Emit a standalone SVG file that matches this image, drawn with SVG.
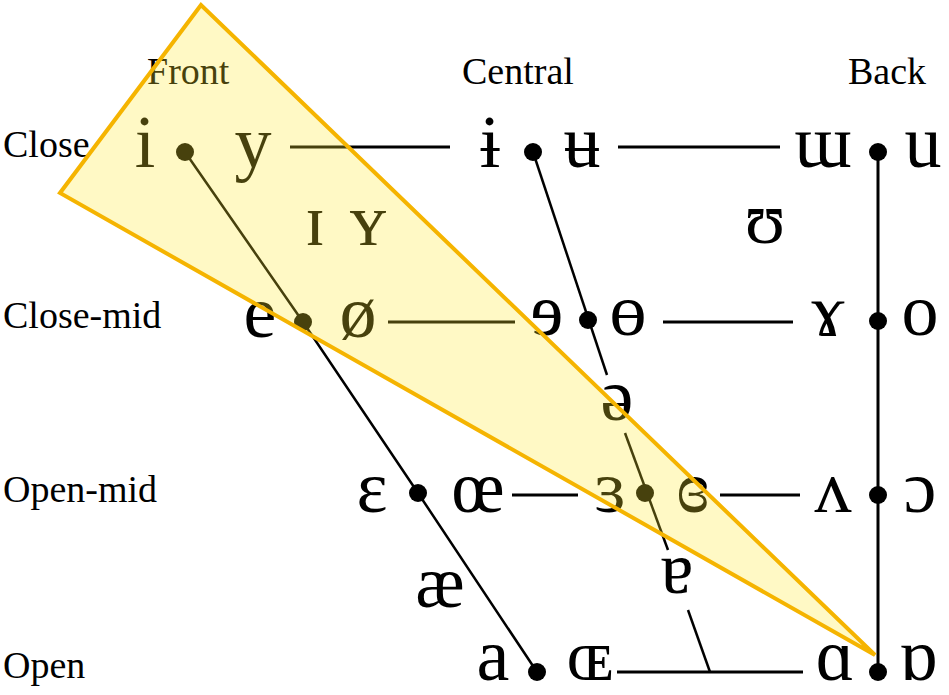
<svg xmlns="http://www.w3.org/2000/svg" width="949" height="695" viewBox="0 0 949 695">
<style>
.lbl{font-family:"Liberation Serif","DejaVu Serif",serif;font-size:38px;fill:#000}
.v{font-family:"Liberation Serif","DejaVu Serif",serif;font-size:74px;fill:#000;text-anchor:middle}
.ln{stroke:#000;stroke-width:3;fill:none}
.dl{stroke:#000;stroke-width:2.5;fill:none}
.dot{fill:#000}
.tri{fill:#ffe82e;fill-opacity:0.28;stroke:#f5b400;stroke-width:4;stroke-linejoin:miter}
</style>
<rect width="949" height="695" fill="#fff"/>
<g id="headers">
<text class="lbl" x="147" y="84">Front</text>
<text class="lbl" x="462" y="84">Central</text>
<text class="lbl" x="848" y="84">Back</text>
<text class="lbl" x="3" y="157">Close</text>
<text class="lbl" x="3" y="328">Close-mid</text>
<text class="lbl" x="3" y="502">Open-mid</text>
<text class="lbl" x="3" y="678">Open</text>
</g>
<g id="connectors">
<line class="ln" x1="290" y1="147" x2="450" y2="147"/>
<line class="ln" x1="618" y1="147" x2="780" y2="147"/>
<line class="ln" x1="388" y1="322" x2="515" y2="322"/>
<line class="ln" x1="663" y1="322" x2="793" y2="322"/>
<line class="ln" x1="512" y1="495" x2="578" y2="495"/>
<line class="ln" x1="720" y1="495" x2="800" y2="495"/>
<line class="ln" x1="617" y1="672" x2="803" y2="672"/>
<line class="ln" x1="878" y1="152" x2="878" y2="672"/>
<polyline class="dl" points="185,152 303,322 418,493 537,672"/>
<line class="dl" x1="533" y1="152" x2="607" y2="375"/>
<line class="dl" x1="625" y1="433" x2="668" y2="550"/>
<line class="dl" x1="688" y1="610" x2="710" y2="672"/>
</g>
<g id="dots">
<circle class="dot" cx="185" cy="152" r="9"/>
<circle class="dot" cx="533" cy="152" r="9"/>
<circle class="dot" cx="878" cy="152" r="9"/>
<circle class="dot" cx="303" cy="322" r="9"/>
<circle class="dot" cx="588" cy="320" r="9"/>
<circle class="dot" cx="878" cy="321" r="9"/>
<circle class="dot" cx="418" cy="493" r="9"/>
<circle class="dot" cx="645" cy="493" r="9"/>
<circle class="dot" cx="878" cy="495" r="9"/>
<circle class="dot" cx="537" cy="672" r="9"/>
<circle class="dot" cx="878" cy="672" r="9"/>
</g>
<g id="close">
<text class="v" x="145" y="167">i</text>
<text class="v" x="253" y="167">y</text>
<text class="v" x="490" y="167">ɨ</text>
<text class="v" x="582" y="167">ʉ</text>
<text class="v" x="823" y="167">ɯ</text>
<text class="v" x="923" y="167">u</text>
</g>
<g id="near-close">
<text class="v" x="315" y="245">ɪ</text>
<text class="v" x="368" y="245">ʏ</text>
<text class="v" x="765" y="243">ʊ</text>
</g>
<g id="close-mid">
<text class="v" x="260" y="337">e</text>
<text class="v" x="358" y="337">ø</text>
<text class="v" x="547" y="335">ɘ</text>
<text class="v" x="628" y="335">ɵ</text>
<text class="v" x="828" y="335">ɤ</text>
<text class="v" x="920" y="335">o</text>
</g>
<g id="mid">
<text class="v" x="617" y="420">ə</text>
</g>
<g id="open-mid">
<text class="v" x="372" y="512">ɛ</text>
<text class="v" x="478" y="512">œ</text>
<text class="v" x="610" y="512">ɜ</text>
<text class="v" x="693" y="512">ɞ</text>
<text class="v" x="833" y="512">ʌ</text>
<text class="v" x="920" y="512">ɔ</text>
</g>
<g id="near-open">
<text class="v" x="440" y="607">æ</text>
<text class="v" x="677" y="593">ɐ</text>
</g>
<g id="open">
<text class="v" x="493" y="680">a</text>
<text class="v" x="590" y="680">ɶ</text>
<text class="v" x="835" y="680">ɑ</text>
<text class="v" x="918" y="680">ɒ</text>
</g>
<g id="highlight">
<polygon class="tri" points="201,5 60,193 875,655"/>
</g>
</svg>
